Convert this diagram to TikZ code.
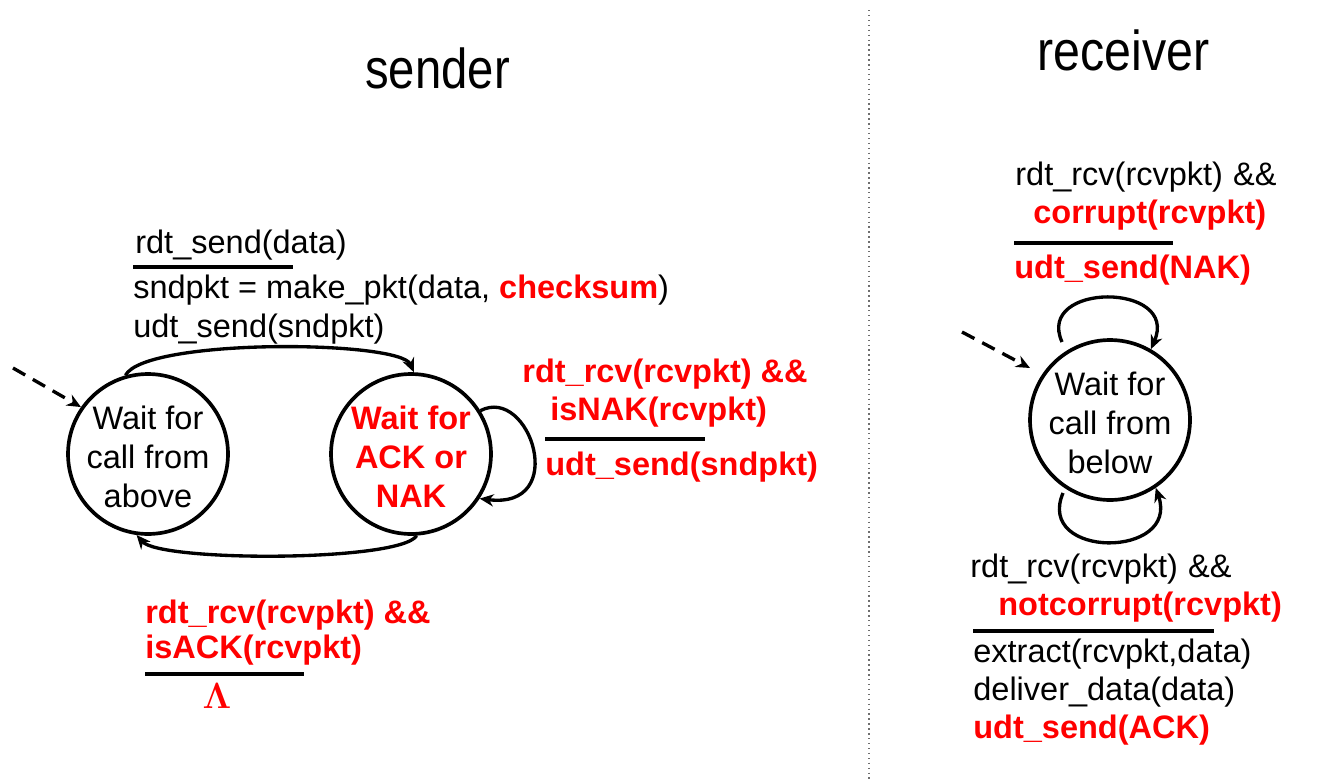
\documentclass[tikz,border=0pt]{standalone}
\usepackage{fontspec}
\setmainfont{Liberation Sans}
\usetikzlibrary{arrows.meta}
\definecolor{myred}{RGB}{255,0,0}
\definecolor{divgray}{RGB}{110,110,110}
\tikzset{
 txt/.style={anchor=base west, inner sep=0pt, font=\fontsize{18.5}{22.1}\selectfont},
 rtxt/.style={txt, text=myred, font=\fontsize{18.5}{22.1}\selectfont\bfseries},
 state/.style={circle, draw, line width=2.1pt, minimum size=3.2cm, inner sep=0pt},
 statetxt/.style={align=center, inner sep=0pt, yshift=-1.6pt, font=\fontsize{18.5}{22.1}\selectfont},
 trans/.style={line width=1.9pt, -{Stealth[length=8pt,width=7pt]}},
 init/.style={trans, dash pattern=on 8pt off 5pt},
 rulebar/.style={line width=2.1pt},
 titletxt/.style={anchor=base west, inner sep=0pt, font=\fontsize{32}{38}\selectfont}
}
\begin{document}
\begin{tikzpicture}[x=0.02cm,y=-0.02cm]
\useasboundingbox (0,0) rectangle (1318,781);

% divider
\coordinate (dtop) at (869,10);
\coordinate (dbot) at (869,781);
\draw[divgray, line width=0.8pt, dotted] (dtop) -- (dbot);

% titles
\node[titletxt] (tsender) at (365,88) {\scalebox{0.84}[1]{sender}};
\node[titletxt] (treceiver) at (1037,70) {\scalebox{0.86}[1]{receiver}};

% sender states
\node[state] (L) at (148,454) {};
\node[statetxt] (Ltxt) at (L) {Wait for\\call from\\above};
\node[state] (R) at (411,454) {};
\node[statetxt, text=myred, font=\fontsize{18.5}{22.1}\selectfont\bfseries] (Rtxt) at (R) {Wait for\\ACK or\\NAK};

% receiver state
\node[state] (RC) at (1110,420) {};
\node[statetxt] (RCtxt) at (RC) {Wait for\\call from\\below};

% sender transitions
\coordinate (sinit) at (13,368);
\draw[init] (sinit) -- (L.145);
\draw[trans] (L.106) .. controls (145,338) and (400,340) .. (R.88);
\draw[trans] (R.274) .. controls (400,562) and (160,562) .. (L.262);
\draw[trans] (R.32) .. controls (530,385) and (570,510) .. (R.-33);

% receiver transitions
\coordinate (rinit) at (962,332);
\coordinate (rinitend) at (1030,368);
\draw[init] (rinit) -- (rinitend);
\coordinate (rtops) at (1062,342);
\draw[trans] (rtops) .. controls (1035,282) and (1180,282) .. (RC.60);
\coordinate (rbots) at (1063,493);
\draw[trans] (rbots) .. controls (1035,559) and (1180,559) .. (RC.-56);

% sender top label
\node[txt] (a1) at (135,253) {rdt\_send(data)};
\coordinate (a1r1) at (133,267); \coordinate (a1r2) at (293,267);
\draw[rulebar] (a1r1) -- (a1r2);
\node[txt] (a2) at (133,298) {sndpkt = make\_pkt(data, \textcolor{myred}{\bfseries checksum})};
\node[txt] (a3) at (133,337) {udt\_send(sndpkt)};

% NAK self-loop label
\node[rtxt] (b1) at (522,382) {rdt\_rcv(rcvpkt) \&\&};
\node[rtxt] (b2) at (550,420) {isNAK(rcvpkt)};
\coordinate (b1r1) at (545,439); \coordinate (b1r2) at (705,439);
\draw[rulebar] (b1r1) -- (b1r2);
\node[rtxt] (b3) at (545,475) {udt\_send(sndpkt)};

% ACK label
\node[rtxt] (c1) at (145,623) {rdt\_rcv(rcvpkt) \&\&};
\node[rtxt] (c2) at (145,658) {isACK(rcvpkt)};
\coordinate (c1r1) at (145,674); \coordinate (c1r2) at (304,674);
\draw[rulebar] (c1r1) -- (c1r2);
\node[anchor=base, inner sep=0pt, text=myred, font=\fontsize{20}{24}\selectfont\boldmath] (c3) at (217,708) {$\Lambda$};

% receiver top label
\node[txt] (d1) at (1015,185) {rdt\_rcv(rcvpkt)\hspace{0.31em}\&\&};
\node[rtxt] (d2) at (1033,223) {corrupt(rcvpkt)};
\coordinate (d1r1) at (1014,243); \coordinate (d1r2) at (1173,243);
\draw[rulebar] (d1r1) -- (d1r2);
\node[rtxt] (d3) at (1014,278) {udt\_send(NAK)};

% receiver bottom label
\node[txt] (e1) at (970,577) {rdt\_rcv(rcvpkt)\hspace{0.31em}\&\&};
\node[rtxt] (e2) at (998,615) {notcorrupt(rcvpkt)};
\coordinate (e1r1) at (973,631); \coordinate (e1r2) at (1214,631);
\draw[rulebar] (e1r1) -- (e1r2);
\node[txt] (e3) at (973,662) {extract(rcvpkt,data)};
\node[txt] (e4) at (973,700) {deliver\_data(data)};
\node[rtxt] (e5) at (973,738) {udt\_send(ACK)};
\end{tikzpicture}
\end{document}
